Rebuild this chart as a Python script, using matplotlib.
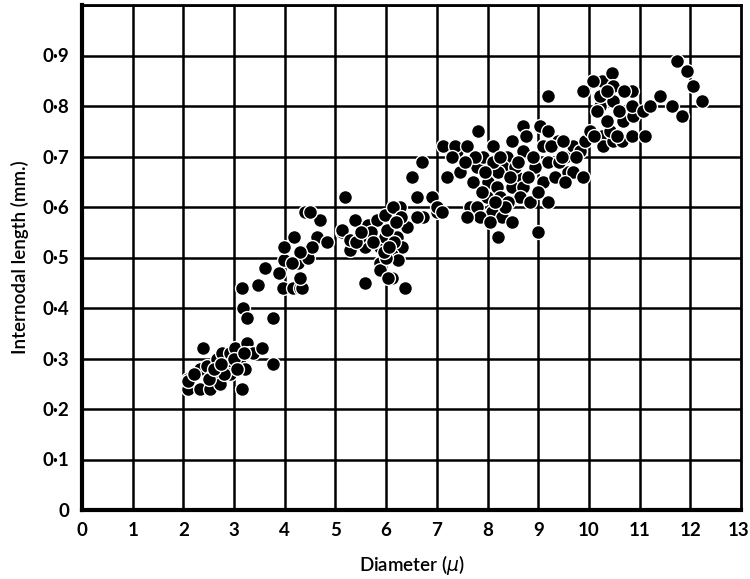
import matplotlib
matplotlib.use("Agg")
import matplotlib.pyplot as plt
from matplotlib.transforms import ScaledTranslation

# Data (diameter in micron, internodal length in mm)
diam_low = [2.09, 2.09, 2.10, 2.33, 2.33, 2.39, 2.46, 2.52, 2.58, 2.66, 2.72, 2.76, 2.88, 2.92, 2.92,
            3.02, 3.10, 3.12, 3.15, 3.21, 3.25, 3.30, 3.37, 3.55, 3.77, 2.20, 2.50, 2.80, 3.00, 3.20,
            2.60, 3.05, 2.75]
len_low = [0.26, 0.24, 0.255, 0.28, 0.24, 0.32, 0.285, 0.24, 0.27, 0.30, 0.25, 0.31, 0.29, 0.31, 0.27,
           0.32, 0.29, 0.29, 0.24, 0.28, 0.33, 0.31, 0.31, 0.32, 0.29, 0.27, 0.26, 0.27, 0.30, 0.31,
           0.28, 0.28, 0.29]

diam_mid = [3.18, 3.25, 3.77, 3.16, 3.47, 3.96, 4.16, 4.30, 4.34, 3.61, 3.89, 3.98, 3.98, 4.18, 4.26,
            4.30, 4.46, 4.40, 4.69, 4.63, 4.83, 4.54, 4.30, 4.14, 4.50]
len_mid = [0.40, 0.38, 0.38, 0.44, 0.445, 0.44, 0.44, 0.44, 0.44, 0.48, 0.47, 0.495, 0.52, 0.54, 0.49,
           0.46, 0.50, 0.59, 0.575, 0.54, 0.53, 0.52, 0.51, 0.49, 0.59]

diam_c5 = [5.13, 5.19, 5.29, 5.38, 5.13, 5.29, 5.58, 5.48, 5.64, 5.82, 5.98, 5.88, 5.98, 6.21, 6.31,
           6.41, 6.27, 6.13, 6.02, 5.88, 6.11, 6.23, 6.11, 5.88, 5.58, 6.37, 6.04, 5.40, 5.70, 6.00,
           6.15, 5.95, 6.30, 6.60, 6.90, 7.00, 6.73, 6.50, 6.70, 6.60, 7.00, 5.75, 6.20, 5.50, 6.05]
len_c5 = [0.55, 0.62, 0.515, 0.575, 0.555, 0.535, 0.52, 0.54, 0.565, 0.575, 0.585, 0.52, 0.54, 0.54, 0.52,
          0.56, 0.60, 0.60, 0.555, 0.49, 0.505, 0.495, 0.46, 0.475, 0.45, 0.44, 0.46, 0.53, 0.55, 0.50,
          0.53, 0.51, 0.58, 0.62, 0.62, 0.59, 0.58, 0.66, 0.69, 0.58, 0.60, 0.53, 0.57, 0.55, 0.52]

diam_c8 = [7.12, 7.20, 7.40, 7.46, 7.36, 7.59, 7.81, 7.79, 7.91, 8.11, 8.38, 8.48, 8.70, 8.70, 9.03,
           9.19, 9.09, 9.39, 9.53, 9.68, 8.93, 8.58, 8.30, 8.00, 7.71, 8.18, 8.48, 8.70, 9.09, 9.33,
           9.59, 7.99, 8.24, 8.64, 8.84, 9.19, 7.65, 7.79, 8.09, 8.28, 8.48, 7.85, 8.05, 8.20, 8.99,
           7.10, 7.60, 8.20, 8.40, 8.90, 8.10, 7.95, 8.55, 9.20, 8.35, 7.75, 9.19,
           7.30, 7.55, 8.25, 8.60, 8.80, 9.00, 8.45, 7.90, 8.15, 9.40, 9.25, 8.75]
len_c8 = [0.72, 0.66, 0.71, 0.67, 0.72, 0.72, 0.75, 0.68, 0.70, 0.72, 0.70, 0.73, 0.76, 0.71, 0.76,
          0.75, 0.72, 0.73, 0.70, 0.72, 0.68, 0.66, 0.68, 0.65, 0.65, 0.64, 0.64, 0.64, 0.65, 0.66,
          0.67, 0.62, 0.62, 0.62, 0.61, 0.61, 0.60, 0.60, 0.59, 0.58, 0.57, 0.58, 0.57, 0.54, 0.55,
          0.59, 0.58, 0.67, 0.61, 0.70, 0.69, 0.67, 0.68, 0.69, 0.60, 0.70, 0.82,
          0.70, 0.69, 0.70, 0.69, 0.66, 0.63, 0.66, 0.63, 0.61, 0.69, 0.72, 0.74]

diam_hi = [9.47, 9.49, 9.68, 9.88, 9.53, 9.82, 9.92, 10.02, 10.26, 10.28, 10.47, 10.41, 10.65, 10.85, 11.10,
           10.67, 10.87, 10.85, 10.85, 10.22, 10.47, 10.22, 10.26, 10.08, 9.88, 10.45, 10.47, 11.07, 11.20, 11.40,
           11.64, 11.83, 11.73, 11.93, 12.05, 12.23, 10.60, 10.35, 10.70, 10.10, 10.55, 10.15, 10.35, 9.75]
len_hi = [0.70, 0.73, 0.67, 0.66, 0.65, 0.71, 0.73, 0.75, 0.74, 0.72, 0.73, 0.75, 0.73, 0.74, 0.74,
          0.77, 0.78, 0.80, 0.83, 0.80, 0.81, 0.82, 0.85, 0.85, 0.83, 0.865, 0.84, 0.79, 0.80, 0.82,
          0.80, 0.78, 0.89, 0.87, 0.84, 0.81, 0.79, 0.77, 0.83, 0.74, 0.74, 0.79, 0.83, 0.70]

diameter = diam_low + diam_mid + diam_c5 + diam_c8 + diam_hi
length = len_low + len_mid + len_c5 + len_c8 + len_hi

x_ticks = list(range(0, 14))
x_labels = [str(v) for v in x_ticks]
y_ticks = [0, 0.1, 0.2, 0.3, 0.4, 0.5, 0.6, 0.7, 0.8, 0.9]
y_labels = ["0", "0·1", "0·2", "0·3", "0·4", "0·5", "0·6", "0·7", "0·8", "0·9"]

plt.rcParams['font.family'] = ['Lato', 'DejaVu Sans']

fig = plt.figure(figsize=(7.5, 5.79), dpi=100)
ax = fig.add_axes([82/750, 1 - 510/579, (741 - 82)/750, (510 - 5)/579])

ax.set_xlim(0, 13)
ax.set_ylim(0, 1.0)

# grid
for xv in x_ticks[1:-1]:
    ax.axvline(xv, color='black', lw=1.8, zorder=1)
for yv in y_ticks[1:] + [1.0]:
    ax.axhline(yv, color='black', lw=1.8, zorder=1)

ax.scatter(diameter, length, s=100, c='black', edgecolors='white', linewidths=1.0, zorder=3)

ax.set_xticks(x_ticks)
ax.set_xticklabels(x_labels)
ax.set_yticks(y_ticks)
ax.set_yticklabels(y_labels)
ax.tick_params(length=0, pad=9, labelsize=13.5)
for lab in ax.get_xticklabels() + ax.get_yticklabels():
    lab.set_fontweight('bold')
# keep the last x label inside the canvas
last = ax.get_xticklabels()[-1]
last.set_horizontalalignment('right')
last.set_transform(last.get_transform() + ScaledTranslation(8/100, 0, fig.dpi_scale_trans))

for side in ['left', 'bottom']:
    ax.spines[side].set_linewidth(3.0)
for side in ['top', 'right']:
    ax.spines[side].set_linewidth(2.0)
for sp in ax.spines.values():
    sp.set_zorder(4)

ax.set_xlabel("Diameter ($\\mu$)", fontsize=13.5, labelpad=10, fontweight='semibold')
ax.set_ylabel("Internodal length (mm.)", fontsize=13.5, labelpad=10, fontweight='semibold')

fig.savefig("out.png", dpi=100)
